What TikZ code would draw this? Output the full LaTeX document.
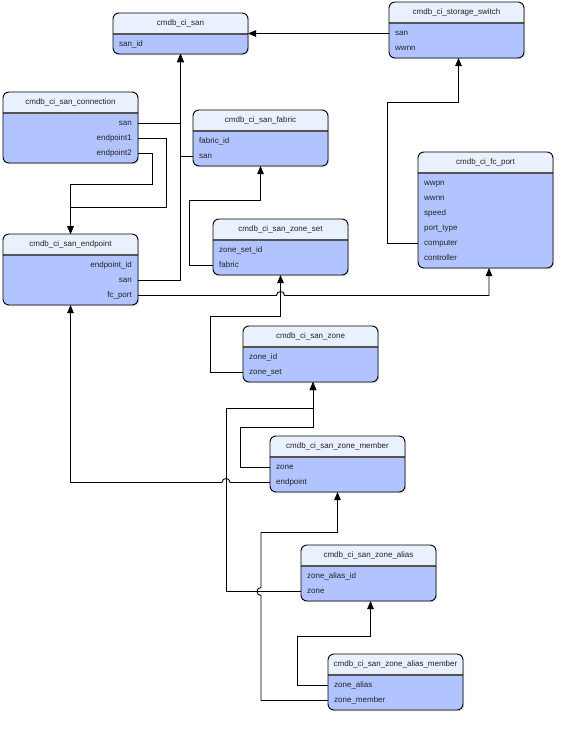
\documentclass[tikz,border=0pt]{standalone}
\usepackage{fontspec}
\setmainfont{Liberation Sans}
\usetikzlibrary{arrows.meta}
\usetikzlibrary{shadows}

\definecolor{headblue}{RGB}{234,241,254}
\definecolor{bodyblue}{RGB}{177,196,255}
\definecolor{sepgrey}{RGB}{85,85,85}
\definecolor{textgrey}{RGB}{34,34,34}

\tikzset{
  frame/.style={rectangle, rounded corners=6pt, minimum width=135pt, fill=bodyblue,
    inner sep=0pt, outer sep=0pt,
    drop shadow={opacity=0.25, shadow xshift=1.2pt, shadow yshift=-1.2pt}},
  title/.style={font=\fontsize{8}{9}\selectfont, text=textgrey, inner sep=0pt},
  field/.style={font=\fontsize{8}{9}\selectfont, text=textgrey, inner sep=0pt,
    text height=6pt, text depth=1.5pt},
  fieldwest/.style={field, anchor=west, xshift=6pt},
  fieldeast/.style={field, anchor=east, xshift=-6pt},
  link/.style={draw, line width=0.9pt, -{Triangle[length=8pt,width=6.5pt]}},
}

% #1 name, #2 top left corner, #3 title, #4 west/east, #5 fields
\newcommand\entity[5]{%
  \foreach \f [count=\i] in {#5} {\xdef\nfields{\i}}
  \node[frame, anchor=north west, minimum height={26+15*\nfields}] (#1) at (#2) {};
  \begin{scope}
    \clip[rounded corners=6pt] (#1.north west) rectangle (#1.south east);
    \fill[headblue] (#1.north west) rectangle ([yshift=-21pt]#1.north east);
  \end{scope}
  \draw[line width=1.3pt, sepgrey] ([yshift=-21pt]#1.north west) -- ([yshift=-21pt]#1.north east);
  \draw[line width=0.9pt, rounded corners=6pt] (#1.north west) rectangle (#1.south east);
  \node[title] (#1-title) at ([yshift=-10.5pt]#1.north) {#3};
  \foreach \f [count=\i] in {#5}
    \node[field#4] (#1-\i) at ([yshift=-31.5pt-15pt*(\i-1)]#1.north #4) {\f};
}

\begin{document}
\begin{tikzpicture}[x=1pt, y=-1pt]
  \useasboundingbox (0,0) rectangle (576,734);

  \entity{san}{113,13}{cmdb\_ci\_san}{west}{san\_id}
  \entity{switch}{389,2}{cmdb\_ci\_storage\_switch}{west}{san, wwnn}
  \entity{conn}{3,92}{cmdb\_ci\_san\_connection}{east}{san, endpoint1, endpoint2}
  \entity{fabric}{193,110}{cmdb\_ci\_san\_fabric}{west}{fabric\_id, san}
  \entity{fcport}{418,152}{cmdb\_ci\_fc\_port}{west}{wwpn, wwnn, speed, port\_type, computer, controller}
  \entity{endpoint}{3,234}{cmdb\_ci\_san\_endpoint}{east}{endpoint\_id, san, fc\_port}
  \entity{zoneset}{213,219}{cmdb\_ci\_san\_zone\_set}{west}{zone\_set\_id, fabric}
  \entity{zone}{243,326}{cmdb\_ci\_san\_zone}{west}{zone\_id, zone\_set}
  \entity{member}{270,436}{cmdb\_ci\_san\_zone\_member}{west}{zone, endpoint}
  \entity{alias}{301,545}{cmdb\_ci\_san\_zone\_alias}{west}{zone\_alias\_id, zone}
  \entity{aliasmember}{328,654}{cmdb\_ci\_san\_zone\_alias\_member}{west}{zone\_alias, zone\_member}

  % references to cmdb_ci_san
  \draw[link] (switch-1 -| switch.west) -- (switch-1 -| san.east);
  \draw[link] (conn-1 -| conn.east) -| (san.south);
  \draw[link] (fabric-2 -| fabric.west) -| (san.south);
  \draw[link] (endpoint-2 -| endpoint.east) -| (san.south);

  % connection endpoints
  \draw[link] (conn-2 -| conn.east) -- ++(28,0) -- ++(0,69) -| (endpoint.north);
  \draw[link] (conn-3 -| conn.east) -- ++(14,0) -- ++(0,31) -| (endpoint.north);

  \draw[link] (zoneset-2 -| zoneset.west) -- ++(-24,0) -- ++(0,-65) -| (fabric.south);
  \draw[link] (fcport-5 -| fcport.west) -- ++(-31,0) -- ++(0,-141) -| ([xshift=2pt]switch.south);
  \draw[link] (zone-2 -| zone.west) -- ++(-33,0) -- ++(0,-56) -| (zoneset.south);

  % fc_port, hops over zone -> zone_set
  \coordinate (hop1) at (endpoint-3 -| zoneset.south);
  \draw[link] (endpoint-3 -| endpoint.east) -- ([xshift=-4pt]hop1)
    .. controls ([xshift=-4pt,yshift=5.3pt]hop1) and ([xshift=4pt,yshift=5.3pt]hop1) .. ([xshift=4pt]hop1)
    -| ([xshift=3.5pt]fcport.south);

  \draw[link] (member-1 -| member.west) -- ++(-30,0) -- ++(0,-40) -| ([xshift=2.5pt]zone.south);
  \draw[link] (alias-2 -| alias.west) -- ++(-75,0) coordinate (aliasbend) -- ++(0,-183) -| ([xshift=2.5pt]zone.south);

  % endpoint, hops over zone_alias -> zone
  \coordinate (hop2) at (member-2 -| aliasbend);
  \draw[link] (member-2 -| member.west) -- ([xshift=4pt]hop2)
    .. controls ([xshift=4pt,yshift=5.3pt]hop2) and ([xshift=-4pt,yshift=5.3pt]hop2) .. ([xshift=-4pt]hop2)
    -| (endpoint.south);

  % zone_member, hops over zone_alias -> zone
  \coordinate (memberbend) at ([xshift=-67pt]aliasmember-2 -| aliasmember.west);
  \coordinate (hop3) at (memberbend |- alias-2);
  \draw[link] (aliasmember-2 -| aliasmember.west) -- (memberbend) -- ([yshift=-4pt]hop3)
    .. controls ([xshift=-5.3pt,yshift=-4pt]hop3) and ([xshift=-5.3pt,yshift=4pt]hop3) .. ([yshift=4pt]hop3)
    -- ([yshift=59pt]hop3) -| (member.south);

  \draw[link] (aliasmember-1 -| aliasmember.west) -- ++(-31,0) -- ++(0,-49) -| ([xshift=2pt]alias.south);
\end{tikzpicture}
\end{document}
